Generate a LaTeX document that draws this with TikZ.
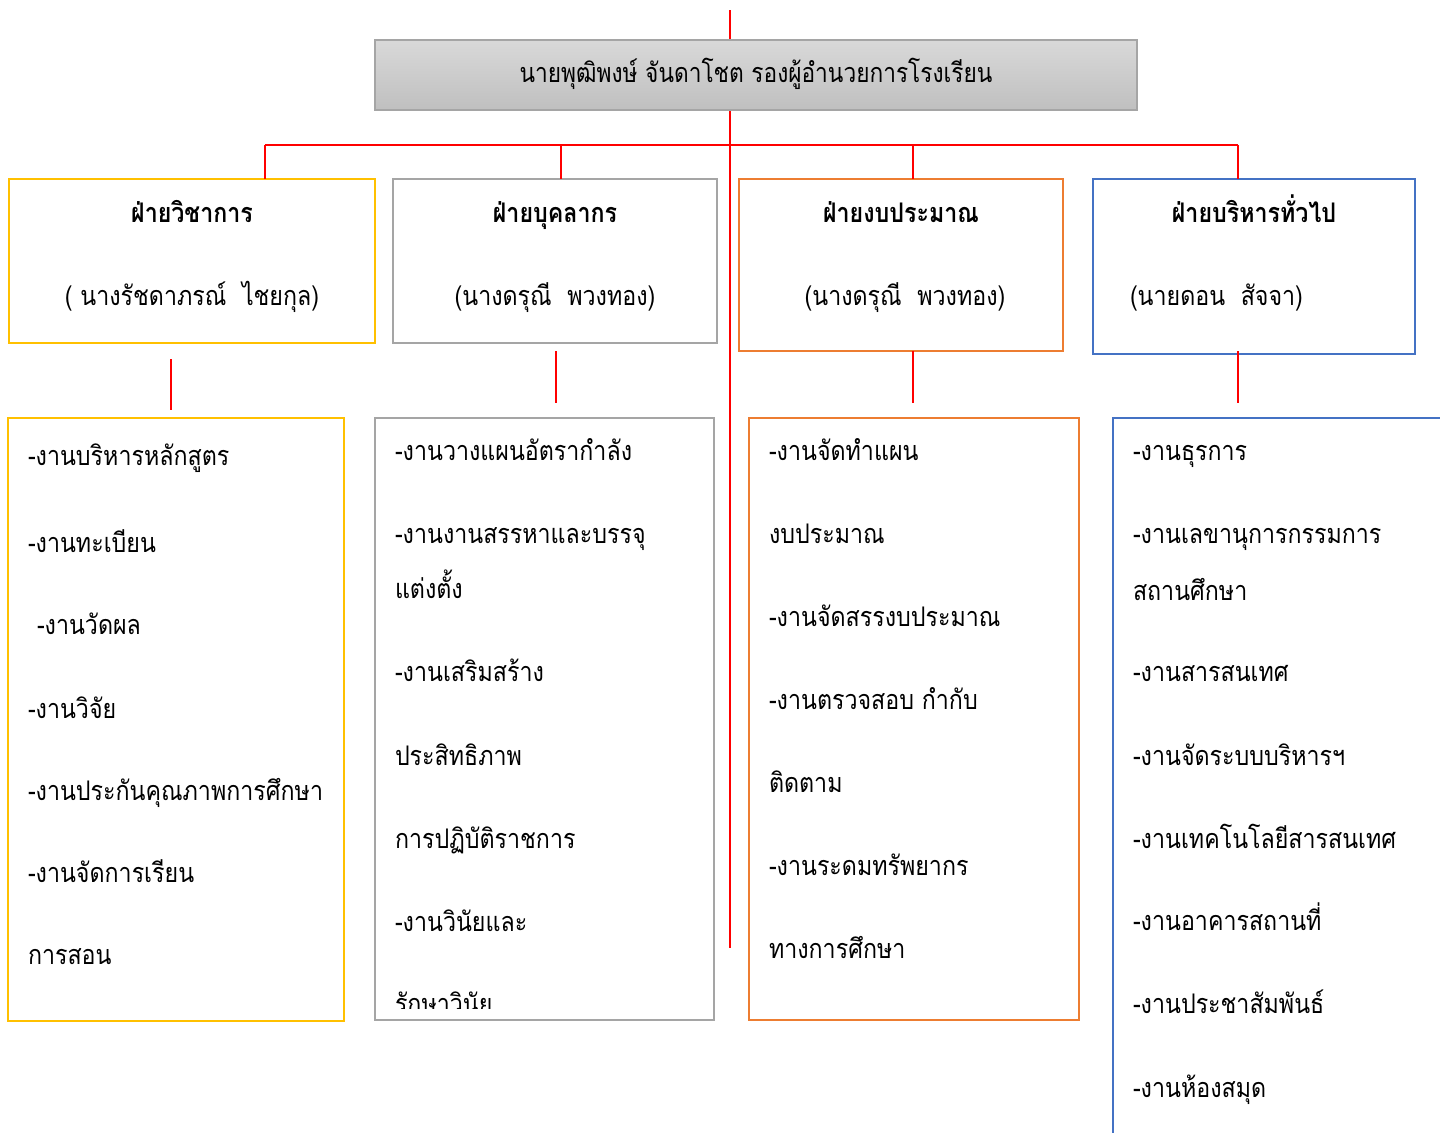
\documentclass[tikz,border=0pt]{standalone}
\usepackage{fontspec}
\newfontfamily\thai[Script=Thai, FakeStretch=0.86]{Loma}
\newfontfamily\thaitop[Script=Thai, FakeStretch=0.84]{Loma}
\definecolor{cyel}{HTML}{FFC000}
\definecolor{cgry}{HTML}{A5A5A5}
\definecolor{corg}{HTML}{ED7D31}
\definecolor{cblu}{HTML}{4472C4}
\begin{document}
\begin{tikzpicture}[x=1pt,y=-1pt,
  every node/.style={inner sep=0pt, outer sep=0pt},
  box/.style={draw, line width=2.8pt, anchor=north west},
  item/.style={anchor=base west, font=\thai\fontsize{27}{30}\selectfont},
  head/.style={anchor=base, font=\thai\bfseries\fontsize{27}{30}\selectfont},
  pname/.style={anchor=base, font=\thai\fontsize{27}{30}\selectfont},
  link/.style={draw=red, line width=2pt}]
\useasboundingbox (0,0) rectangle (1440,1133);
% main red spine
\coordinate (sTop) at (730,10);
\coordinate (sBot) at (730,948);
\draw[link] (sTop) -- (sBot);
% top box
\node[box, draw=cgry, line width=1.5pt, top color=gray!30, bottom color=gray!50,
      minimum width=762pt, minimum height=70pt] (top) at (375,40) {};
\node[pname, font=\thaitop\fontsize{27}{30}\selectfont] (topt) at (756,82) {นายพุฒิพงษ์ จันดาโชต รองผู้อำนวยการโรงเรียน};
% bus
\coordinate (j1) at (265,145);
\coordinate (j2) at (561,145);
\coordinate (j3) at (913,145);
\coordinate (j4) at (1238,145);
\draw[link] (j1) -- (j4);
% department boxes
\node[box, draw=cyel, minimum width=366pt, minimum height=164pt] (b1) at (9,179) {};
\node[box, draw=cgry, minimum width=324pt, minimum height=164pt] (b2) at (393,179) {};
\node[box, draw=corg, minimum width=324pt, minimum height=172pt] (b3) at (739,179) {};
\node[box, draw=cblu, minimum width=322pt, minimum height=175pt] (b4) at (1093,179) {};
\draw[link] (j1) -- (j1 |- b1.north);
\draw[link] (j2) -- (j2 |- b2.north);
\draw[link] (j3) -- (j3 |- b3.north);
\draw[link] (j4) -- (j4 |- b4.north);
\node[head] (h1) at (192,222) {ฝ่ายวิชาการ};
\node[head] (h2) at (555,222) {ฝ่ายบุคลากร};
\node[head] (h3) at (901,222) {ฝ่ายงบประมาณ};
\node[head] (h4) at (1254,222) {ฝ่ายบริหารทั่วไป};
\node[pname] (n1) at (192,305) {( นางรัชดาภรณ์\ \ ไชยกุล)};
\node[pname] (n2) at (555,305) {(นางดรุณี\ \ พวงทอง)};
\node[pname] (n3) at (905,305) {(นางดรุณี\ \ พวงทอง)};
\node[pname, anchor=base west] (n4) at (1130,305) {(นายดอน\ \ สัจจา)};
% short red links
\coordinate (c1a) at (171,359); \coordinate (c1b) at (171,410);
\coordinate (c2a) at (556,351); \coordinate (c2b) at (556,403);
\coordinate (c3a) at (913,351); \coordinate (c3b) at (913,403);
\coordinate (c4a) at (1238,351); \coordinate (c4b) at (1238,403);
\draw[link] (c1a) -- (c1b);
\draw[link] (c2a) -- (c2b);
\draw[link] (c3a) -- (c3b);
\draw[link] (c4a) -- (c4b);
% lower boxes
\node[box, draw=cyel, minimum width=336pt, minimum height=603pt] (l1) at (8,418) {};
\node[box, draw=cgry, minimum width=339pt, minimum height=602pt] (l2) at (375,418) {};
\node[box, draw=corg, minimum width=330pt, minimum height=602pt] (l3) at (749,418) {};
\coordinate (l4a) at (1440,418);
\coordinate (l4b) at (1113,418);
\coordinate (l4c) at (1113,1133);
\draw[cblu, line width=2.8pt] (l4a) -- (l4b) -- (l4c);
% box A items
\node[item] (a1) at (28,465) {-งานบริหารหลักสูตร};
\node[item] (a2) at (28,552) {-งานทะเบียน};
\node[item] (a3) at (37,634) {-งานวัดผล};
\node[item] (a4) at (28,718) {-งานวิจัย};
\node[item] (a5) at (28,800) {-งานประกันคุณภาพการศึกษา};
\node[item] (a6) at (28,882) {-งานจัดการเรียน};
\node[item] (a7) at (28,964) {การสอน};
% box B items
\node[item] (bb1) at (395,460) {-งานวางแผนอัตรากำลัง};
\node[item] (bb2) at (395,543) {-งานงานสรรหาและบรรจุ};
\node[item] (bb3) at (395,598) {แต่งตั้ง};
\node[item] (bb4) at (395,681) {-งานเสริมสร้าง};
\node[item] (bb5) at (395,765) {ประสิทธิภาพ};
\node[item] (bb6) at (395,848) {การปฏิบัติราชการ};
\node[item] (bb7) at (395,931) {-งานวินัยและ};
\begin{scope}
\clip (380,990) rectangle (710,1008);
\node[item] (bb8) at (395,1013) {รักษาวินัย};
\end{scope}
% box C items
\node[item] (cc1) at (769,460) {-งานจัดทำแผน};
\node[item] (cc2) at (769,543) {งบประมาณ};
\node[item] (cc3) at (769,626) {-งานจัดสรรงบประมาณ};
\node[item] (cc4) at (769,709) {-งานตรวจสอบ กำกับ};
\node[item] (cc5) at (769,792) {ติดตาม};
\node[item] (cc6) at (769,875) {-งานระดมทรัพยากร};
\node[item] (cc7) at (769,958) {ทางการศึกษา};
% box D items
\node[item] (d1) at (1133,460) {-งานธุรการ};
\node[item] (d2) at (1133,543) {-งานเลขานุการกรรมการ};
\node[item] (d3) at (1133,600) {สถานศึกษา};
\node[item] (d4) at (1133,681) {-งานสารสนเทศ};
\node[item] (d5) at (1133,765) {-งานจัดระบบบริหารฯ};
\node[item] (d6) at (1133,848) {-งานเทคโนโลยีสารสนเทศ};
\node[item] (d7) at (1133,930) {-งานอาคารสถานที่};
\node[item] (d8) at (1133,1013) {-งานประชาสัมพันธ์};
\node[item] (d9) at (1133,1097) {-งานห้องสมุด};
\end{tikzpicture}
\end{document}
